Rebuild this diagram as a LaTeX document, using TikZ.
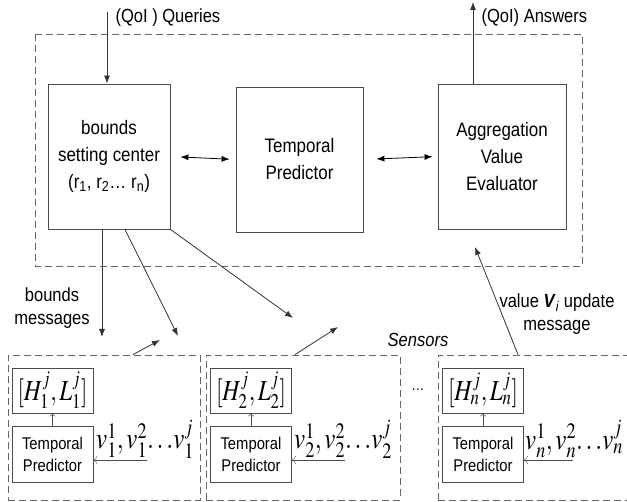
\documentclass[tikz,border=0pt]{standalone}
\usepackage{mathptmx}
\usepackage{fontspec}
\setmainfont{Liberation Sans}[FakeStretch=0.87]
\usetikzlibrary{arrows.meta}
\DeclareMathSizes{30}{30}{22}{17}
\DeclareMathSizes{29}{29}{21}{16}

\tikzset{
  >={Latex[length=8pt,width=6pt]},
  box/.style={draw=black!70, thick, align=center, inner sep=0pt},
  sensorbox/.style={draw=black!60, thick, dash pattern=on 7pt off 4pt, inner sep=0pt},
  smallbox/.style={draw=black!70, thick, align=center, inner sep=0pt, minimum width=81pt},
  msg/.style={draw=black!80, thick, ->},
  lbl/.style={align=center, font=\fontsize{19}{23}\selectfont}
}
\newcommand{\vlist}[1]{\scalebox{0.83}[1]{$v_{#1}^1, v_{#1}^2 {\ldots} v_{#1}^j$}}
\newcommand{\hlbound}[1]{\scalebox{0.8}[1]{$[H_{#1}^j,L_{#1}^j]$}}

\begin{document}
\begin{tikzpicture}[x=1pt, y=-1pt]
\useasboundingbox (0,0) rectangle (627,502);

% -----------------------------
% Central server (dashed frame)
% -----------------------------
\draw[black!60, thick, dash pattern=on 7pt off 4pt] (35,34) rectangle (582,266);

\node[box, minimum width=122pt, minimum height=145pt, font=\fontsize{19.5}{27}\selectfont]
    (bsc) at (109,156.5) {bounds\\setting center\\(r\textsubscript{1}, r\textsubscript{2}\ldots\ r\textsubscript{n})};
\node[box, minimum width=127pt, minimum height=145pt, font=\fontsize{19.5}{27}\selectfont]
    (tp) at (299.5,159.5) {Temporal\\Predictor};
\node[box, minimum width=128pt, minimum height=145pt, font=\fontsize{19.5}{27}\selectfont]
    (ave) at (502,156.5) {Aggregation\\Value\\Evaluator};

\draw[<->, thick, shorten <=10pt, shorten >=6pt] (bsc.east) -- (tp.west);
\draw[<->, thick, shorten <=13pt, shorten >=5pt] (tp.east) -- (ave.west);

% queries in, answers out
\coordinate (qin) at (107,12);
\coordinate (aout) at (473,2);
\draw[msg] (qin) -- (qin |- bsc.north);
\draw[msg] (aout |- ave.north) -- (aout);
\node[lbl, anchor=west] (qlbl) at (112,18) {(QoI ) Queries};
\node[lbl, anchor=west] (albl) at (478,18) {(QoI) Answers};

% -----------------------------
% Sensors
% -----------------------------
\node[sensorbox, minimum width=192pt, minimum height=145pt] (sa) at (104,427.5) {};
\node[sensorbox, minimum width=194pt, minimum height=145pt] (sb) at (303,427.5) {};
\node[sensorbox, minimum width=194pt, minimum height=145pt] (sc) at (535,427.5) {};

% sensor 1
\node[smallbox, minimum height=45pt, font=\fontsize{29}{30}\selectfont] (ha) at (52.5,390.5) {\hlbound{1}};
\node[smallbox, minimum height=56pt, font=\fontsize{17}{22}\selectfont] (tpa) at (52.5,454) {Temporal\\Predictor};
\node[anchor=west, inner sep=0pt, font=\fontsize{30}{30}\selectfont] (va) at (96,439) {\vlist{1}};
\coordinate (ina) at (147,460);
\draw[->, black!70, >={To[length=3pt]}] (tpa.north) -- (ha.south);
\draw[->, black!70, >={To[length=4pt]}] (ina) -- (ina -| tpa.east);

% sensor 2
\node[smallbox, minimum height=45pt, font=\fontsize{29}{30}\selectfont] (hb) at (251,390.5) {\hlbound{2}};
\node[smallbox, minimum height=56pt, font=\fontsize{17}{22}\selectfont] (tpb) at (251,454) {Temporal\\Predictor};
\node[anchor=west, inner sep=0pt, font=\fontsize{30}{30}\selectfont] (vb) at (294,439) {\vlist{2}};
\coordinate (inb) at (345,460);
\draw[->, black!70, >={To[length=3pt]}] (tpb.north) -- (hb.south);
\draw[->, black!70, >={To[length=4pt]}] (inb) -- (inb -| tpb.east);

% sensor n
\node[smallbox, minimum height=45pt, font=\fontsize{29}{30}\selectfont] (hc) at (483,390.5) {\hlbound{n}};
\node[smallbox, minimum height=56pt, font=\fontsize{17}{22}\selectfont] (tpc) at (483,454) {Temporal\\Predictor};
\node[anchor=west, inner sep=0pt, font=\fontsize{30}{30}\selectfont] (vc) at (525,439) {\vlist{n}};
\coordinate (inc) at (573,460);
\draw[->, black!70, >={To[length=3pt]}] (tpc.north) -- (hc.south);
\draw[->, black!70, >={To[length=4pt]}] (inc) -- (inc -| tpc.east);

\node[font=\fontsize{15}{15}\selectfont] (dots) at (418,390) {\ldots};
\node[lbl, font=\fontsize{19}{20}\selectfont\itshape] (sens) at (418,340) {Sensors};

% -----------------------------
% Messages
% -----------------------------
\coordinate (m1) at (102,337);
\coordinate (m2) at (178,336);
\coordinate (m3) at (293,318);
\draw[msg] (m1 |- bsc.south) -- (m1);
\draw[msg] ([xshift=16pt]bsc.south) -- (m2);
\draw[msg] (bsc.south east) -- (m3);
\node[lbl] (blbl) at (52,308) {bounds\\messages};

\coordinate (ua) at (160,340);
\coordinate (ub) at (338,327);
\coordinate (uc) at (475,247);
\draw[msg] ([xshift=29pt]sa.north) -- (ua);
\draw[msg] ([xshift=-8pt]sb.north) -- (ub);
\draw[msg] ([xshift=-17pt]sc.north) -- (uc);
\node[lbl] (vlbl) at (557,314) {value \textbf{\textit{V}}\textsubscript{\textit{i}} update\\message};

\end{tikzpicture}
\end{document}
